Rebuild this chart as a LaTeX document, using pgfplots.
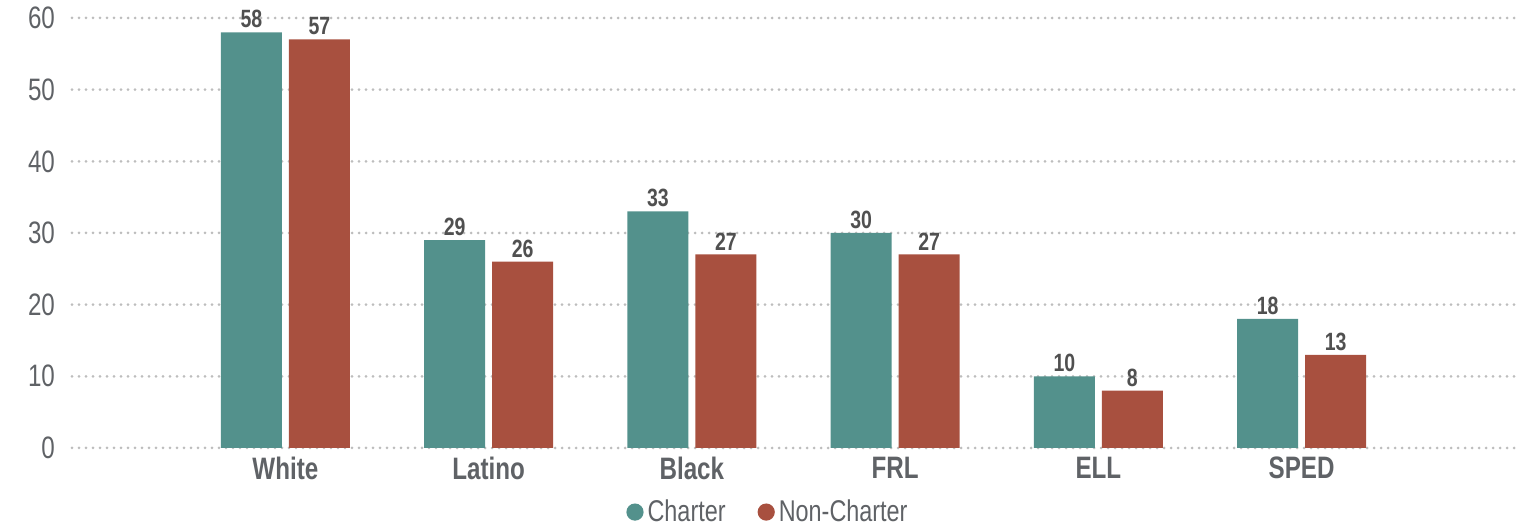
\documentclass[border=0pt]{standalone}
\usepackage{fontspec}
\setmainfont{Liberation Sans}[FakeStretch=0.78]
\usepackage{pgfplots}
\pgfplotsset{compat=1.18}

\definecolor{charter}{HTML}{53918C}
\definecolor{noncharter}{HTML}{A8503F}
\definecolor{gridgray}{HTML}{BDBDBD}
\definecolor{valtext}{HTML}{505050}
\definecolor{labtext}{HTML}{5F6266}

\begin{document}
\begin{tikzpicture}
\begin{axis}[
  name=main,
  scale only axis,
  width=721.5pt, height=215pt,
  ymin=0, ymax=60,
  xmin=-1.05, xmax=6.05,
  ytick={0,10,...,60},
  xtick=data,
  xticklabels={White,Latino,Black,FRL,ELL,SPED},
  axis line style={draw=none},
  major tick length=0pt,
  ymajorgrids,
  grid style={gridgray, line width=1.5pt, line cap=round, dash pattern=on 0pt off 3.5pt},
  ybar=3.5pt,
  bar width=30.5pt,
  enlarge x limits=false,
  /pgf/number format/assume math mode=true,
  yticklabel style={font=\fontsize{15.5}{17}\selectfont, text=labtext, anchor=east, xshift=-5pt},
  xticklabel style={font=\fontsize{15.5}{17}\selectfont\bfseries, text=labtext, anchor=north, yshift=-1pt},
  nodes near coords,
  every node near coord/.append style={font=\fontsize{12.5}{14}\selectfont\bfseries, text=valtext, inner sep=2pt},
  legend style={at={(0.483,-0.149)}, anchor=center, draw=none, fill=none,
    legend columns=2, font=\fontsize{15}{17}\selectfont, text=labtext,
    /tikz/every even column/.append style={column sep=14pt}},
  legend image code/.code={\fill[#1, draw=none] (0.15cm,0cm) circle (4.3pt);},
]
\addplot[fill=charter, draw=none] coordinates {(0,58) (1,29) (2,33) (3,30) (4,10) (5,18)};
\addplot[fill=noncharter, draw=none] coordinates {(0,57) (1,26) (2,27) (3,27) (4,8) (5,13)};
\legend{Charter, Non-Charter}
\end{axis}
\pgfresetboundingbox
\useasboundingbox ([xshift=-36pt, yshift=-39.5pt]main.south west) rectangle ([xshift=7pt, yshift=9pt]main.north east);
\end{tikzpicture}
\end{document}
